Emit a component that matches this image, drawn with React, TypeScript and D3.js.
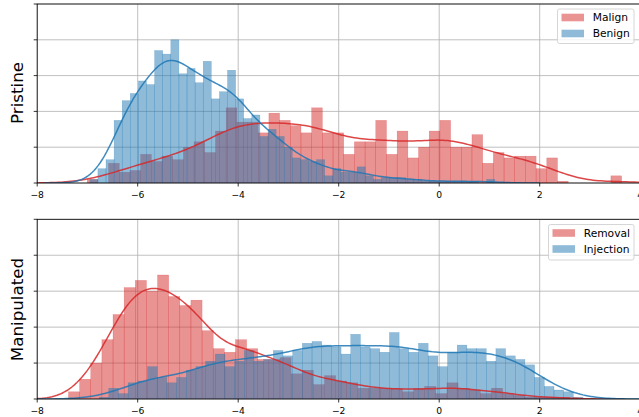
import { useRef, useEffect } from 'react'
import * as d3 from 'd3'

// histogram counts (one value per bin)
const malignCounts = [2, 0, 11, 6, 7, 16, 12, 15, 13, 20, 23, 17, 29, 42, 34, 34, 28, 39, 35, 32,
  28, 42, 28, 28, 16, 23, 23, 35, 16, 29, 14, 20, 29, 35, 20, 20, 27, 11, 17, 14,
  15, 15, 8, 14, 1, 0, 0, 0, 0, 4]
const benignCounts = [2, 8, 13, 35, 46, 50, 57, 55, 74, 72, 80, 61, 64, 56, 68, 47, 51, 63, 47, 36,
  38, 26, 30, 26, 20, 14, 13, 12, 13, 4, 8, 6, 6, 9, 4, 2, 3, 3, 3, 2,
  2, 1, 1, 1, 1, 1, 1, 1, 0, 2]
const removalCounts = [4, 11, 20, 33, 47, 62, 66, 60, 69, 57, 52, 55, 38, 28, 26, 33, 28, 22, 22, 23,
  14, 16, 8, 13, 10, 9, 6, 6, 6, 6, 4, 6, 7, 3, 9, 6, 5, 3, 6, 3,
  2, 1, 1, 1, 1]
const injectionCounts = [1, 6, 3, 9, 10, 18, 12, 9, 12, 16, 18, 21, 25, 18, 21, 27, 21, 22, 27, 24,
  27, 31, 32, 30, 29, 25, 36, 29, 28, 26, 37, 28, 26, 31, 24, 18, 26, 30, 28, 28,
  21, 28, 24, 22, 19, 12, 7, 5, 4, 1]

// bin start / width per series, plus kde bandwidth
const malignBins = { start: -7.005, width: 0.2127, bw: 0.52 }
const benignBins = { start: -6.953, width: 0.1612, bw: 0.3 }
const removalBins = { start: -7.377, width: 0.2215, bw: 0.36 }
const injectionBins = { start: -6.768, width: 0.1926, bw: 0.46 }

const xTicks = [-8, -6, -4, -2, 0, 2, 4]
const yTicks = [0, 20, 40, 60, 80, 100]

const RED = '#d62728'
const BLUE = '#1f77b4'

interface Series {
  name: string
  counts: number[]
  bins: { start: number; width: number; bw: number }
  color: string
}

function kdeCurve(s: Series): [number, number][] {
  const { start, width, bw } = s.bins
  const centers = s.counts.map((_, i) => start + (i + 0.5) * width)
  const lo = Math.max(-8.2, start - 3 * bw)
  const hi = Math.min(4.2, start + s.counts.length * width + 3 * bw)
  const norm = width / (bw * Math.sqrt(2 * Math.PI))
  return d3.range(241).map(i => {
    const xv = lo + (hi - lo) * i / 240
    const v = d3.sum(s.counts, (c, j) => c * Math.exp(-0.5 * ((xv - centers[j]) / bw) ** 2))
    return [xv, v * norm]
  })
}

const fmt = (d: number) => (d < 0 ? '\u2212' + Math.abs(d) : String(d))

export default function App() {
  const svgRef = useRef<SVGSVGElement>(null)

  useEffect(() => {
    if (!svgRef.current) return
    const svg = d3.select(svgRef.current)
    svg.selectAll('*').remove()

    const x = d3.scaleLinear().domain([-8, 4]).range([37.2, 640.2])
    const font = 'DejaVu Sans, sans-serif'

    const panels = [
      { top: 4, bottom: 183, label: 'Pristine', labelY: 93,
        series: [
          { name: 'Malign', counts: malignCounts, bins: malignBins, color: RED },
          { name: 'Benign', counts: benignCounts, bins: benignBins, color: BLUE },
        ] as Series[],
        legend: { x: 557.5, y: 9, w: 76.5, h: 34.5 } },
      { top: 219.3, bottom: 399, label: 'Manipulated', labelY: 309.5,
        series: [
          { name: 'Removal', counts: removalCounts, bins: removalBins, color: RED },
          { name: 'Injection', counts: injectionCounts, bins: injectionBins, color: BLUE },
        ] as Series[],
        legend: { x: 548.5, y: 224.5, w: 85.5, h: 35.5 } },
    ]

    panels.forEach((p, pi) => {
      const y = d3.scaleLinear().domain([0, 100]).range([p.bottom, p.top])
      const [x0, x1] = x.range()
      const clipId = `clip-${pi}`
      svg.append('clipPath').attr('id', clipId)
        .append('rect').attr('x', x0).attr('y', p.top).attr('width', x1 - x0).attr('height', p.bottom - p.top)

      const g = svg.append('g')

      // grid
      g.selectAll('.gy').data(yTicks).join('line')
        .attr('x1', x0).attr('x2', x1)
        .attr('y1', d => y(d)).attr('y2', d => y(d))
        .attr('stroke', '#b0b0b0').attr('stroke-width', 0.8)
      g.selectAll('.gx').data(xTicks).join('line')
        .attr('x1', d => x(d)).attr('x2', d => x(d))
        .attr('y1', p.top).attr('y2', p.bottom)
        .attr('stroke', '#b0b0b0').attr('stroke-width', 0.8)

      const plot = g.append('g').attr('clip-path', `url(#${clipId})`)

      // histogram bars
      p.series.forEach(s => {
        plot.append('g').selectAll('rect')
          .data(s.counts.map((c, i) => ({ c, i })).filter(d => d.c > 0))
          .join('rect')
          .attr('x', d => x(s.bins.start + d.i * s.bins.width))
          .attr('width', x(s.bins.width) - x(0))
          .attr('y', d => y(d.c))
          .attr('height', d => y(0) - y(d.c))
          .attr('fill', s.color).attr('fill-opacity', 0.5)
          .attr('stroke', s.color).attr('stroke-opacity', 0.4).attr('stroke-width', 0.45)
      })

      // kde lines
      const line = d3.line<[number, number]>().x(d => x(d[0])).y(d => y(d[1]))
      p.series.forEach(s => {
        plot.append('path')
          .datum(kdeCurve(s))
          .attr('fill', 'none')
          .attr('stroke', s.color)
          .attr('stroke-opacity', 0.85)
          .attr('stroke-width', 1.5)
          .attr('d', line)
      })

      // spines
      g.append('rect')
        .attr('x', x0).attr('y', p.top).attr('width', x1 - x0).attr('height', p.bottom - p.top)
        .attr('fill', 'none').attr('stroke', 'black').attr('stroke-width', 0.8)

      // ticks
      g.selectAll('.ty').data(yTicks).join('line')
        .attr('x1', x0 - 3.5).attr('x2', x0)
        .attr('y1', d => y(d)).attr('y2', d => y(d))
        .attr('stroke', 'black').attr('stroke-width', 0.8)
      g.selectAll('.tx').data(xTicks).join('line')
        .attr('x1', d => x(d)).attr('x2', d => x(d))
        .attr('y1', p.bottom).attr('y2', p.bottom + 3.5)
        .attr('stroke', 'black').attr('stroke-width', 0.8)
      g.selectAll('.lx').data(xTicks).join('text')
        .attr('x', d => x(d)).attr('y', p.bottom + 14.7)
        .attr('text-anchor', 'middle')
        .style('font-family', font).style('font-size', '9.2px')
        .text(d => fmt(d))

      // y label
      g.append('text')
        .attr('transform', `translate(23,${p.labelY}) rotate(-90)`)
        .attr('text-anchor', 'middle')
        .style('font-family', font).style('font-size', '16.7px')
        .text(p.label)

      // legend
      const lg = g.append('g')
      lg.append('rect')
        .attr('x', p.legend.x).attr('y', p.legend.y)
        .attr('width', p.legend.w).attr('height', p.legend.h)
        .attr('rx', 2)
        .attr('fill', 'white').attr('fill-opacity', 0.8)
        .attr('stroke', '#cccccc').attr('stroke-width', 0.8)
      p.series.forEach((s, i) => {
        const cy = p.legend.y + 8.5 + i * 16
        lg.append('rect')
          .attr('x', p.legend.x + 4).attr('y', cy - 3.8)
          .attr('width', 22.5).attr('height', 7.6)
          .attr('fill', s.color).attr('fill-opacity', 0.5)
        lg.append('text')
          .attr('x', p.legend.x + 35.2).attr('y', cy)
          .attr('dy', '0.36em')
          .style('font-family', font).style('font-size', '10.7px')
          .text(s.name)
      })
    })
  }, [])

  return (
    <div>
      <svg ref={svgRef} width={639} height={417}
        style={{ position: 'absolute', left: 0, top: 0, background: 'white' }} />
    </div>
  )
}
